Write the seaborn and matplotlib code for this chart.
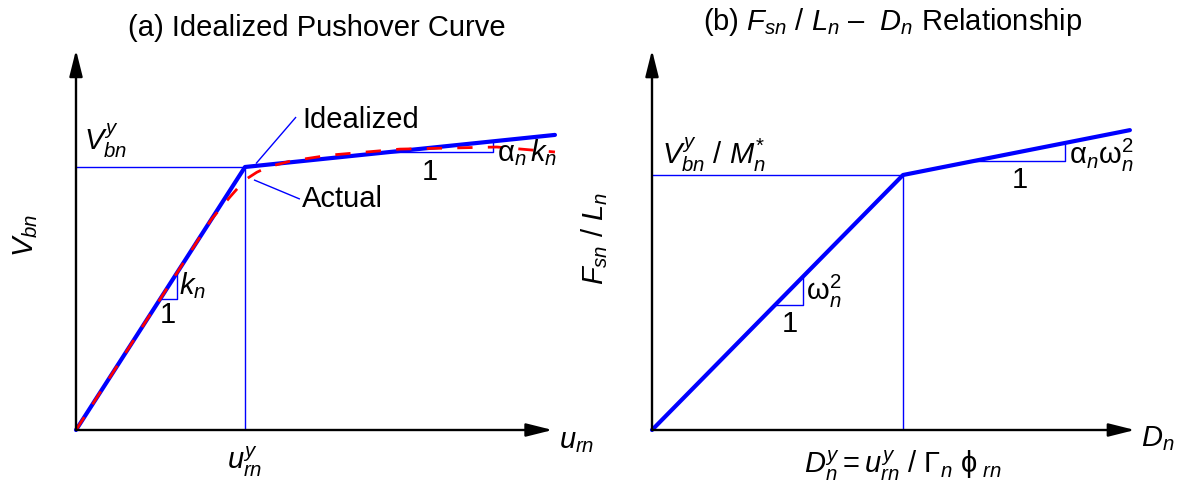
import matplotlib
matplotlib.use('Agg')
import matplotlib.pyplot as plt
import seaborn as sns

# Idealized bilinear curves (yield point normalised to 1, 1)
ideal_u = [0.0, 1.0, 2.834]
ideal_v = [0.0, 1.0, 1.122]
actual_u = [0.0, 0.80, 0.911, 1.0, 1.07, 1.136, 1.272, 1.5, 1.917, 2.49, 2.834]
actual_v = [0.0, 0.80, 0.886, 0.951, 0.98, 1.0, 1.023, 1.045, 1.068, 1.076, 1.057]
sdof_d = [0.0, 1.0, 1.904]
sdof_f = [0.0, 1.0, 1.176]

sns.set_theme(style='white')
plt.rcParams['font.family'] = ['Liberation Sans', 'DejaVu Sans']
plt.rcParams['text.color'] = 'black'
plt.rcParams['mathtext.fontset'] = 'custom'
plt.rcParams['mathtext.rm'] = 'Liberation Sans'
plt.rcParams['mathtext.it'] = 'Liberation Sans:italic'
plt.rcParams['mathtext.bf'] = 'Liberation Sans:bold'

BLUE = '#0000ff'
RED = '#ff0000'
FS = 21

fig = plt.figure(figsize=(11.77, 4.91), dpi=100)
ax1 = fig.add_axes([0, 0, 590 / 1177, 1])
ax2 = fig.add_axes([590 / 1177, 0, 587 / 1177, 1])
for ax in (ax1, ax2):
    ax.set_axis_off()

ax1.set_xlim(-76 / 169, (590 - 76) / 169)
ax1.set_ylim(-61 / 263, 430 / 263)
ax2.set_xlim(-62 / 251, (1177 - 652) / 251)
ax2.set_ylim(-61 / 255, 430 / 255)


def axis_arrows(ax, xmax, ymax):
    kw = dict(arrowstyle='-|>,head_length=0.8,head_width=0.2', color='black',
              lw=1.7, mutation_scale=20, shrinkA=0, shrinkB=0)
    ax.annotate('', xy=(xmax, 0), xytext=(0, 0), arrowprops=kw)
    ax.annotate('', xy=(0, ymax), xytext=(0, 0), arrowprops=kw)


def thin(ax, xs, ys):
    ax.plot(xs, ys, color=BLUE, lw=1.0, solid_capstyle='butt')


# ---- (a) Idealized pushover curve ----
axis_arrows(ax1, 2.82, 1.445)
thin(ax1, [0, 1], [1, 1])
thin(ax1, [1, 1], [0, 1])
thin(ax1, [0.50, 0.60, 0.60], [0.50, 0.50, 0.60])
thin(ax1, [1.858, 2.467, 2.467], [1.057, 1.057, 1.098])
thin(ax1, [1.065, 1.302], [1.013, 1.19])
thin(ax1, [1.053, 1.325], [0.951, 0.878])

sns.lineplot(x=ideal_u, y=ideal_v, ax=ax1, color=BLUE, linewidth=3, sort=False)
sns.lineplot(x=actual_u, y=actual_v, ax=ax1, color=RED, linewidth=2, sort=False)
ax1.lines[-1].set_dashes((5.5, 5.5))

ax1.text(1.337, 1.179, 'Idealized', fontsize=FS, va='center')
ax1.text(1.337, 0.878, 'Actual', fontsize=FS, va='center')
ax1.text(0.612, 0.55, '$k_n$', fontsize=FS, va='center')
ax1.text(0.544, 0.437, '1', fontsize=FS, ha='center', va='center')
ax1.text(2.095, 0.981, '1', fontsize=FS, ha='center', va='center')
ax1.text(2.49, 1.055, r'$\mathrm{\alpha}_n\,k_n$', fontsize=FS, va='center')
ax1.text(0.05, 1.10, '$V_{bn}^{y}$', fontsize=FS, va='center')
ax1.text(-0.30, 0.74, '$V_{bn}$', fontsize=FS, rotation=90, ha='center', va='center')
ax1.text(1.0, -0.12, '$u_{rn}^{y}$', fontsize=FS, ha='center', va='center')
ax1.text(2.86, -0.04, '$u_{rn}$', fontsize=FS, va='center')
ax1.text(1.426, 1.53, '(a) Idealized Pushover Curve', fontsize=FS, ha='center', va='center')

# ---- (b) F/L - D relationship ----
axis_arrows(ax2, 1.924, 1.49)
thin(ax2, [0, 1], [1, 1])
thin(ax2, [1, 1], [0, 1])
thin(ax2, [0.49, 0.60, 0.60], [0.49, 0.49, 0.60])
thin(ax2, [1.28, 1.645, 1.645], [1.055, 1.055, 1.126])

sns.lineplot(x=sdof_d, y=sdof_f, ax=ax2, color=BLUE, linewidth=3, sort=False)

ax2.text(0.612, 0.545, r'$\mathrm{\omega}_n^2$', fontsize=FS, va='center')
ax2.text(0.55, 0.416, '1', fontsize=FS, ha='center', va='center')
ax2.text(1.466, 0.98, '1', fontsize=FS, ha='center', va='center')
ax2.text(1.66, 1.075, r'$\mathrm{\alpha}_n\mathrm{\omega}_n^2$', fontsize=FS, va='center')
ax2.text(0.04, 1.08, r'$V_{bn}^{y}\ /\ M_n^{*}$', fontsize=FS, va='center')
ax2.text(-0.23, 0.75, r'$F_{sn}\ /\ L_n$', fontsize=FS, rotation=90, ha='center', va='center')
ax2.text(1.0, -0.14, r'$D_n^{y} = u_{rn}^{y}\ /\ \mathrm{\Gamma}_n\ \mathrm{\phi}_{\ rn}$',
         fontsize=FS, ha='center', va='center')
ax2.text(1.948, -0.035, '$D_n$', fontsize=FS, va='center')
ax2.text(0.96, 1.60, r'(b) $F_{sn}$ / $L_n$ –  $D_n$ Relationship', fontsize=FS,
         ha='center', va='center')

fig.savefig('out.png', dpi=100)
